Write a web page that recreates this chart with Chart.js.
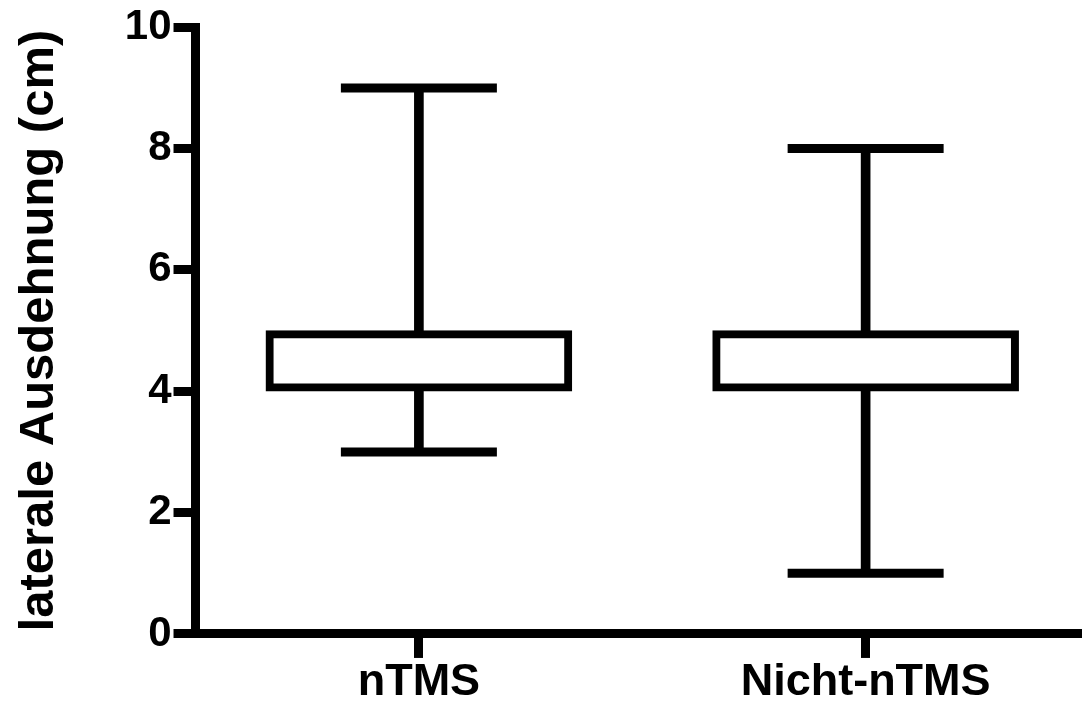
<!DOCTYPE html>
<html lang="de">
<head>
    <meta charset="UTF-8">
    <title>laterale Ausdehnung</title>
    <script src="https://cdn.jsdelivr.net/npm/chart.js"></script>
    <style>
        html, body { margin: 0; padding: 0; background: #fff; overflow: hidden; }
        #wrap { width: 1089px; height: 707px; position: relative; }
    </style>
</head>
<body>
    <div id="wrap">
        <canvas id="boxChart"></canvas>
    </div>

    <script>
        // Box plot values (cm)
        const groups = ['nTMS', 'Nicht-nTMS'];
        const minValues = [3, 1];
        const q1Values = [4, 4];
        const q3Values = [5, 5];
        const maxValues = [9, 8];
        const yTicks = [0, 2, 4, 6, 8, 10];

        const FONT = "'Liberation Sans', Arial, sans-serif";

        // whisker spans min..max, box spans q1..q3
        const whiskers = groups.map((g, i) => [minValues[i], maxValues[i]]);
        const boxes = groups.map((g, i) => [q1Values[i], q3Values[i]]);

        // caps at min and max
        const capStyle = {
            type: 'line',
            showLine: false,
            pointStyle: 'line',
            pointRadius: 78,
            pointBorderWidth: 9,
            pointBorderColor: '#000',
            order: 2
        };

        const ctx = document.getElementById('boxChart').getContext('2d');
        new Chart(ctx, {
            data: {
                labels: groups,
                datasets: [
                    {
                        type: 'bar',
                        data: boxes,
                        backgroundColor: '#fff',
                        borderColor: '#000',
                        borderWidth: 8,
                        borderSkipped: false,
                        barThickness: 306,
                        grouped: false,
                        order: 1
                    },
                    {
                        type: 'bar',
                        data: whiskers,
                        backgroundColor: '#000',
                        borderWidth: 0,
                        barThickness: 9,
                        grouped: false,
                        order: 3
                    },
                    { ...capStyle, data: maxValues },
                    { ...capStyle, data: minValues }
                ]
            },
            options: {
                responsive: true,
                maintainAspectRatio: false,
                animation: false,
                layout: { autoPadding: false, padding: { top: 2, right: 0, bottom: 0, left: 10 } },
                plugins: {
                    legend: { display: false },
                    tooltip: { enabled: false }
                },
                scales: {
                    x: {
                        offset: true,
                        grid: {
                            offset: false,
                            drawOnChartArea: false,
                            drawTicks: true,
                            tickLength: 24,
                            tickWidth: 9,
                            tickColor: '#000'
                        },
                        border: { display: true, color: '#000', width: 9 },
                        ticks: {
                            color: '#000',
                            padding: 9,
                            font: { family: FONT, size: 45, weight: 'bold', lineHeight: 0.69 }
                        }
                    },
                    y: {
                        min: 0,
                        max: 10,
                        afterBuildTicks: axis => {
                            axis.ticks = yTicks.map(v => ({ value: v }));
                        },
                        grid: {
                            drawOnChartArea: false,
                            drawTicks: true,
                            tickLength: 22,
                            tickWidth: 9,
                            tickColor: '#000'
                        },
                        border: { display: true, color: '#000', width: 9 },
                        ticks: {
                            color: '#000',
                            padding: 2,
                            font: { family: FONT, size: 42, weight: 'bold' }
                        },
                        title: {
                            display: true,
                            text: 'laterale Ausdehnung (cm)',
                            color: '#000',
                            padding: { top: 0, bottom: 54 },
                            font: { family: FONT, size: 49, weight: 'bold' }
                        }
                    }
                }
            }
        });
    </script>
</body>
</html>
